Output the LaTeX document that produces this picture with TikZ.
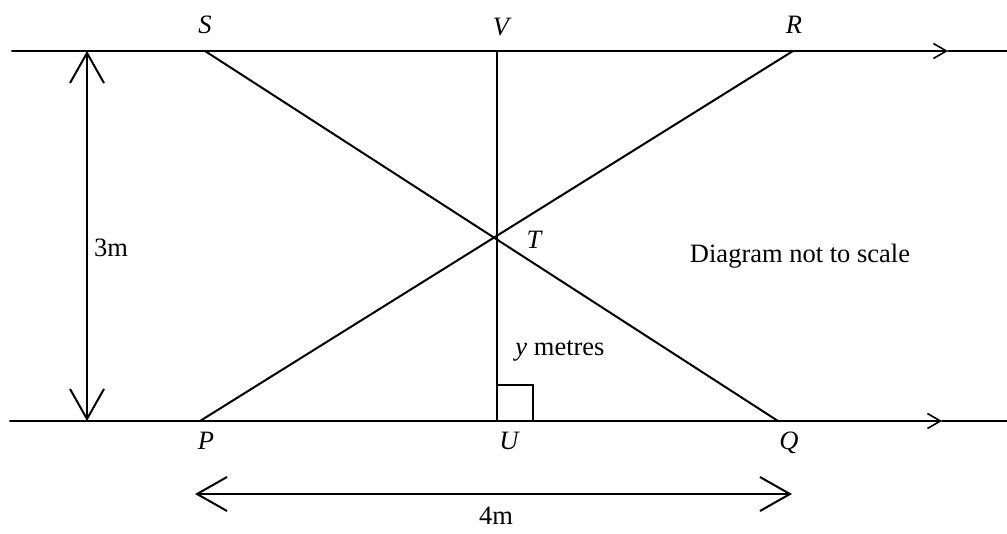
\documentclass[tikz,border=0pt]{standalone}
\usepackage{fontspec}
\setmainfont{Liberation Serif}
\usetikzlibrary{arrows.meta}
\begin{document}
\begin{tikzpicture}[x=1pt,y=-1pt,
  ln/.style={line width=2pt, line cap=round},
  mid/.style={ln, -{Straight Barb[length=13pt,width=15pt,line width=1.6pt]}},
  dim/.style={ln, {Straight Barb[length=30pt,width=34pt,line width=2pt]}-{Straight Barb[length=30pt,width=34pt,line width=2pt]}},
  lbl/.style={font=\fontsize{26.5}{30}\selectfont\itshape, inner sep=0pt},
  txt/.style={font=\fontsize{26.5}{30}\selectfont, inner sep=0pt}]
\useasboundingbox (0,0) rectangle (1007,533);
% points
\coordinate (TL) at (12,51);
\coordinate (TA) at (948,51);
\coordinate (TR) at (1007,51);
\coordinate (BL) at (10,421);
\coordinate (BA) at (942,421);
\coordinate (BR) at (1007,421);
\coordinate (S) at (205,51);
\coordinate (V) at (497,51);
\coordinate (R) at (793,51);
\coordinate (P) at (200,421);
\coordinate (U) at (497,421);
\coordinate (Q) at (778,421);
\coordinate (D1) at (87,51);
\coordinate (D2) at (87,421);
\coordinate (H1) at (195,494);
\coordinate (H2) at (792,494);
% parallel lines
\draw[mid] (TL) -- (TA);
\draw[ln] (TA) -- (TR);
\draw[mid] (BL) -- (BA);
\draw[ln] (BA) -- (BR);
% crossing lines
\draw[ln] (S) -- (Q);
\draw[ln] (P) -- (R);
\draw[ln] (V) -- (U);
% right angle
\draw[line width=2pt] (497,385) -- (533,385) -- (533,421);
% dimensions
\draw[dim] (D1) -- (D2);
\draw[dim] (H1) -- (H2);
% labels
\node[lbl] (lS) at (205,25) {S};
\node[lbl] (lV) at (501,27) {V};
\node[lbl] (lR) at (794,25) {R};
\node[lbl] (lP) at (206,441) {P};
\node[lbl] (lU) at (509,441) {U};
\node[lbl] (lQ) at (789,443) {Q};
\node[lbl] (lT) at (534,240) {T};
\node[txt] (l3) at (111,248) {3m};
\node[txt] (ly) at (560,351) {\textit{y} metres};
\node[txt] (ld) at (800,256) {Diagram not to scale};
\node[txt] (l4) at (496,516) {4m};
\end{tikzpicture}
\end{document}
